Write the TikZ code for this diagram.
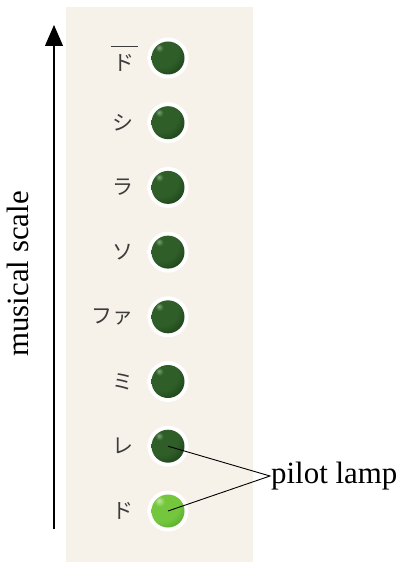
\documentclass[tikz,border=0pt]{standalone}
\usepackage{fontspec}
\setmainfont{Liberation Serif}
\newfontfamily\cjk{Noto Sans CJK JP}
\usetikzlibrary{arrows.meta}
\definecolor{panelbg}{HTML}{F6F2EA}
\definecolor{darkhi}{HTML}{7AA472}
\definecolor{darkmid}{HTML}{2F5E29}
\definecolor{darkedge}{HTML}{143312}
\definecolor{lighthi}{HTML}{BDE99A}
\definecolor{lightmid}{HTML}{74C63D}
\definecolor{lightedge}{HTML}{3E9420}
\definecolor{labelgray}{HTML}{3C3C3C}
\pgfdeclareradialshading{darkball}{\pgfpoint{-14bp}{16bp}}{%
  color(0bp)=(darkhi); color(6bp)=(darkmid); color(26bp)=(darkmid); color(48bp)=(darkedge); color(100bp)=(darkedge)}
\pgfdeclareradialshading{lightball}{\pgfpoint{-14bp}{16bp}}{%
  color(0bp)=(lighthi); color(8bp)=(lightmid); color(28bp)=(lightmid); color(50bp)=(lightedge); color(100bp)=(lightedge)}
\pgfdeclareradialshading{haloshade}{\pgfpoint{1.5bp}{-1.5bp}}{%
  color(0bp)=(white); color(37bp)=(white); color(49bp)=(panelbg); color(100bp)=(panelbg)}
\tikzset{
  halo/.style={circle, shading=haloshade, minimum size=41bp, inner sep=0pt},
  lampoff/.style={circle, shading=darkball, minimum size=33bp, inner sep=0pt},
  lampon/.style={circle, shading=lightball, minimum size=33bp, inner sep=0pt},
  notelabel/.style={anchor=east, text=labelgray, font=\cjk\fontsize{21}{22}\selectfont, inner sep=0pt},
  callout/.style={draw=black, line width=0.9bp},
  bigtext/.style={font=\fontsize{31}{34}\selectfont, inner sep=0pt}
}
\begin{document}
\begin{tikzpicture}[x=1bp, y=-1bp]
\useasboundingbox (0,0) rectangle (398,562);
\fill[panelbg] (66,7) rectangle (253,562);
% arrow
\coordinate (abot) at (54,529);
\coordinate (atop) at (54,25);
\draw[line width=1.1bp, -{Triangle[length=21bp, width=18bp]}] (abot) -- (atop);
\node[bigtext, rotate=90] (scale) at (18,274) {musical scale};
% lamps
\foreach \i/\n in {0/hdo,1/si,2/ra,3/so,4/fa,5/mi,6/re} {
  \node[halo] at (168,{58+64.7*\i}) {};
  \node[lampoff] (\n) at (168,{58+64.7*\i}) {};
}
\node[halo] at (168,511) {};
\node[lampon] (do) at (168,511) {};
% labels
\node[notelabel] (lhdo) at (135,63) {ド};
\draw[labelgray, line width=1.4bp] ([xshift=-3bp,yshift=8bp]lhdo.north west) -- ([xshift=3bp,yshift=8bp]lhdo.north east);
\node[notelabel] (lsi) at (134,{58+64.7*1}) {シ};
\node[notelabel] (lra) at (134,{58+64.7*2}) {ラ};
\node[notelabel] (lso) at (134,{58+64.7*3}) {ソ};
\node[notelabel] (lfa) at (134,{58+64.7*4}) {ファ};
\node[notelabel] (lmi) at (134,{58+64.7*5}) {ミ};
\node[notelabel] (lre) at (134,{58+64.7*6}) {レ};
\node[notelabel] (ldo) at (134,511) {ド};
% pilot lamp callout
\node[bigtext, anchor=west] (pilot) at (271,476) {pilot lamp};
\coordinate (meet) at (270,476);
\draw[callout] (re.center) -- (meet) -- (do.center);
\end{tikzpicture}
\end{document}
